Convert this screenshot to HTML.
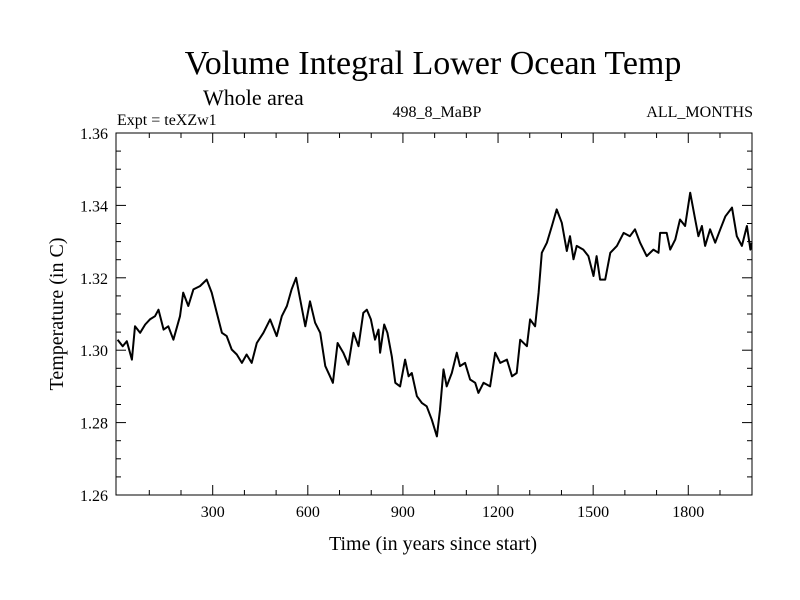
<!DOCTYPE html>
<html><head><meta charset="utf-8"><style>body{margin:0;background:#fff}svg{display:block;font-family:"Liberation Serif",serif}</style></head>
<body>
<svg id="chart" width="800" height="600" viewBox="0 0 800 600">
<rect width="800" height="600" fill="#fff"/>
<text x="433" y="74" font-size="34" text-anchor="middle">Volume Integral Lower Ocean Temp</text>
<text x="203" y="105" font-size="22">Whole area</text>
<text x="117" y="125" font-size="16">Expt = teXZw1</text>
<text x="437" y="117" font-size="16" text-anchor="middle">498_8_MaBP</text>
<text x="753" y="117" font-size="16" text-anchor="end">ALL_MONTHS</text>
<text transform="translate(63,314) rotate(-90)" font-size="20" text-anchor="middle">Temperature (in C)</text>
<text x="433" y="550" font-size="20" text-anchor="middle">Time (in years since start)</text>
<g id="axes"></g>
<path id="series" fill="none" stroke="#000" stroke-width="2" stroke-linejoin="round"/>
<rect x="116" y="133" width="636" height="362" fill="none" stroke="#000" stroke-width="1"/>
</svg>
<script>
const years=[0,16,29,45,55,71,87,102,118,129,145,160,176,197,207,223,239,260,281,297,313,329,344,360,376,392,407,423,439,460,481,502,518,534,549,563,576,592,607,623,639,655,670,679,694,712,728,744,760,775,786,799,812,823,828,841,851,865,876,891,907,918,928,944,960,975,991,1007,1017,1028,1038,1054,1070,1080,1096,1112,1128,1138,1154,1175,1191,1207,1228,1244,1259,1270,1291,1301,1317,1328,1338,1354,1370,1385,1401,1417,1427,1438,1448,1469,1485,1501,1511,1522,1538,1554,1575,1596,1616,1632,1648,1669,1690,1706,1711,1732,1743,1759,1774,1790,1806,1822,1832,1843,1853,1869,1885,1901,1917,1938,1953,1969,1985,1996,2000];
const temps=[1.3029,1.3011,1.3025,1.2974,1.3066,1.3048,1.3071,1.3085,1.3094,1.3112,1.3057,1.3066,1.3029,1.3094,1.3159,1.3122,1.3168,1.3177,1.3195,1.3159,1.3103,1.3048,1.3039,1.3002,1.2988,1.2965,1.2988,1.2965,1.3020,1.3048,1.3085,1.3039,1.3094,1.3122,1.3168,1.3200,1.3140,1.3066,1.3135,1.3076,1.3048,1.2956,1.2928,1.2910,1.3020,1.2993,1.2960,1.3048,1.3011,1.3103,1.3112,1.3085,1.3029,1.3057,1.2993,1.3071,1.3048,1.2983,1.2910,1.2900,1.2974,1.2928,1.2937,1.2873,1.2854,1.2845,1.2808,1.2762,1.2836,1.2947,1.2900,1.2937,1.2993,1.2956,1.2965,1.2919,1.2910,1.2882,1.2910,1.2900,1.2993,1.2965,1.2974,1.2928,1.2937,1.3029,1.3011,1.3085,1.3066,1.3159,1.3269,1.3297,1.3343,1.3389,1.3352,1.3274,1.3315,1.3251,1.3288,1.3278,1.3260,1.3205,1.3260,1.3195,1.3195,1.3269,1.3288,1.3324,1.3315,1.3334,1.3297,1.3260,1.3278,1.3269,1.3324,1.3324,1.3278,1.3306,1.3361,1.3343,1.3435,1.3361,1.3315,1.3343,1.3288,1.3334,1.3297,1.3334,1.3370,1.3394,1.3315,1.3288,1.3343,1.3278,1.3297];
const xTickLabels=[300,600,900,1200,1500,1800];
const yTickLabels=["1.26","1.28","1.30","1.32","1.34","1.36"];
const X0=116,X1=752,Y0=495,Y1=133,XMIN=-5,XMAX=2001,YMIN=1.26,YMAX=1.36;
function xs(v){return X0+(v-XMIN)/(XMAX-XMIN)*(X1-X0);}
function ys(v){return Y0-(v-YMIN)/(YMAX-YMIN)*(Y0-Y1);}
const NS="http://www.w3.org/2000/svg";
const g=document.getElementById('axes');
function line(x1,y1,x2,y2,name){const l=document.createElementNS(NS,'line');l.setAttribute('x1',x1);l.setAttribute('y1',y1);l.setAttribute('x2',x2);l.setAttribute('y2',y2);l.setAttribute('stroke','#000');


g.appendChild(l);}
function txt(x,y,s,anchor,name){const t=document.createElementNS(NS,'text');t.setAttribute('x',x);t.setAttribute('y',y);t.setAttribute('font-size','16');t.setAttribute('text-anchor',anchor);t.textContent=s;


g.appendChild(t);}
for(let v=100;v<=1900;v+=100){const x=xs(v);const major=v%300===0;const L=major?10:5;line(x,Y0,x,Y0-L,'x-tick');line(x,Y1,x,Y1+L,'x-tick-top');}
xTickLabels.forEach(v=>txt(xs(v),517,String(v),'middle','x-tick-label'));
for(let i=0;i<=20;i++){const v=YMIN+i*0.005;const y=ys(v);const major=i%4===0;const L=major?10:5;line(X0,y,X0+L,y,'y-tick');line(X1,y,X1-L,y,'y-tick-right');}
yTickLabels.forEach(s=>txt(X0-8,ys(parseFloat(s))+6,s,'end','y-tick-label'));
let d='';years.forEach((yr,i)=>{d+=(i?'L':'M')+xs(yr).toFixed(1)+','+ys(temps[i]).toFixed(1);});
document.getElementById('series').setAttribute('d',d);
</script>
</body></html>
